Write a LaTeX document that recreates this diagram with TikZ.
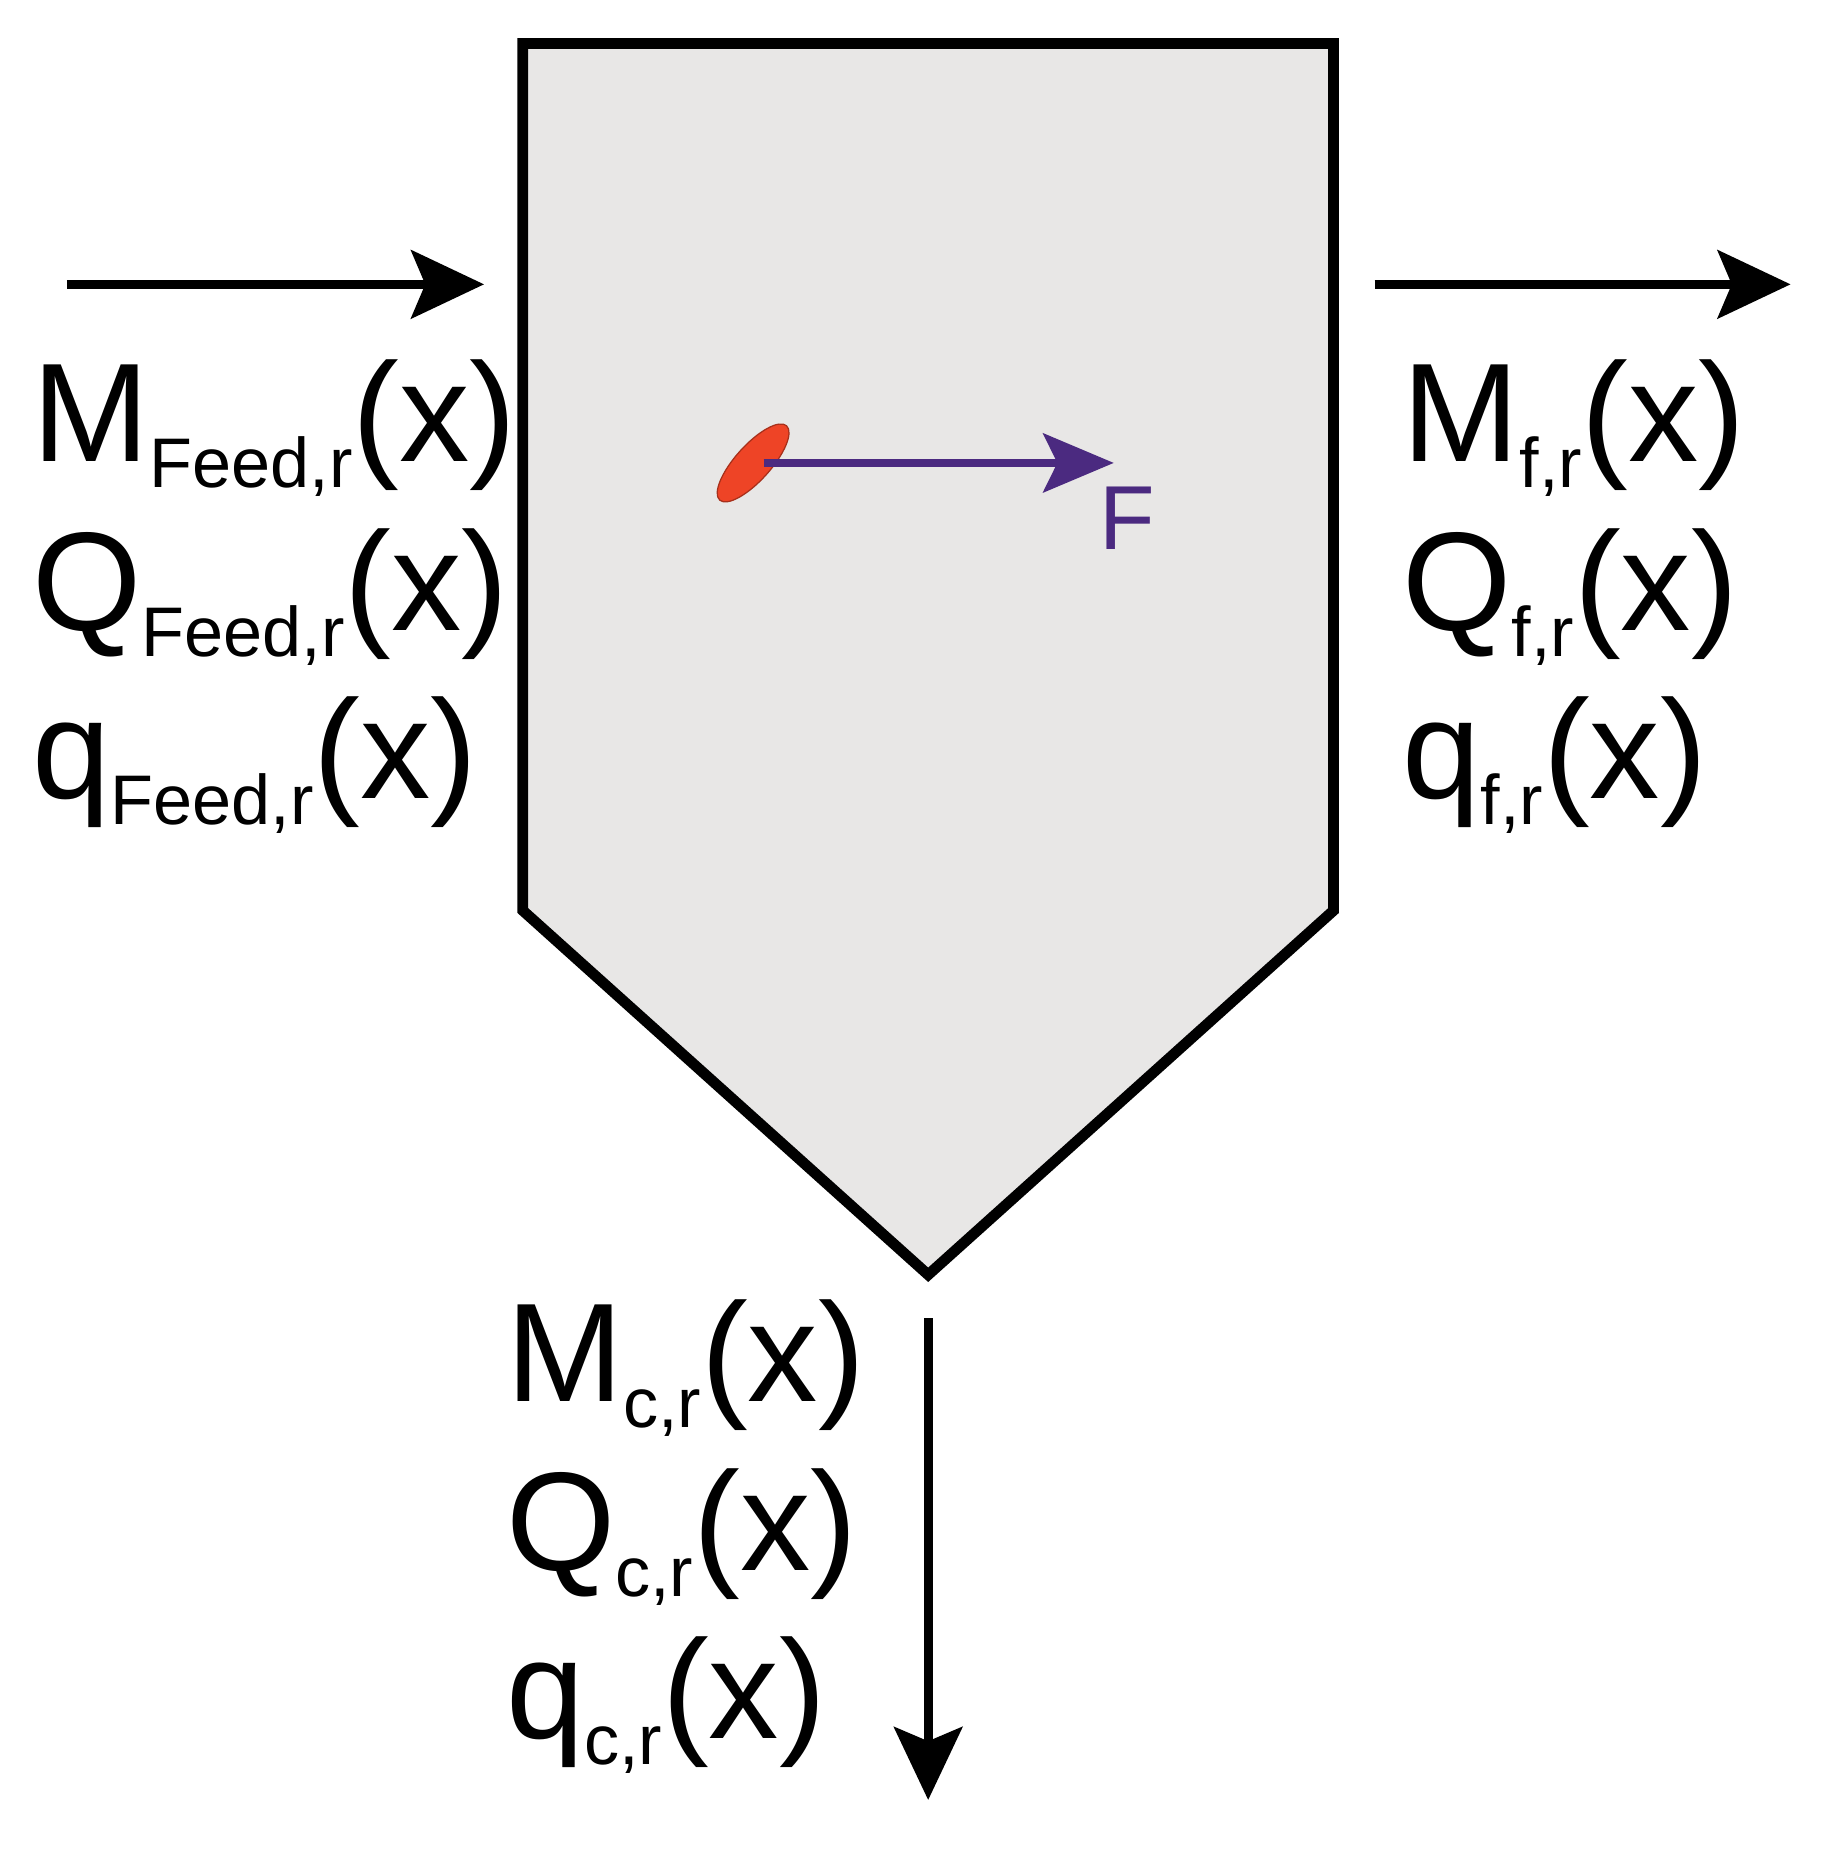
\documentclass[tikz,border=0pt]{standalone}
\usepackage{fontspec}
\setmainfont{Liberation Sans}
\usetikzlibrary{arrows.meta,shapes.geometric}
\definecolor{boxgray}{HTML}{E8E7E6}
\definecolor{redp}{HTML}{EE4426}
\definecolor{purp}{HTML}{4B2A80}
\newcommand{\sbx}[1]{{\fontsize{17}{17}\selectfont\raisebox{-0.22cm}{#1}}}
\tikzset{
  big/.style={font=\fontsize{34}{40}\selectfont, anchor=base west, inner sep=0pt},
  flow/.style={line width=2.1pt, -{Stealth[length=0.62cm,width=0.58cm,inset=0.12cm]}},
}
\begin{document}
\begin{tikzpicture}[x=0.01cm,y=-0.01cm]
\useasboundingbox (0,0) rectangle (1553,1578);
\draw[line width=2.6pt, fill=boxgray, line join=miter] (445,37) -- (1135,37) -- (1135,775) -- (790,1085) -- (445,775) -- cycle;
\coordinate (a1) at (57,242); \coordinate (a2) at (412,242);
\coordinate (b1) at (1170,242); \coordinate (b2) at (1524,242);
\coordinate (c1) at (790,1122); \coordinate (c2) at (790,1532);
\draw[flow] (a1) -- (a2);
\draw[flow] (b1) -- (b2);
\draw[flow] (c1) -- (c2);
\node[big] (m1) at (27,393) {M\sbx{Feed,r}(x)};
\node[big] (q1) at (27,537) {Q\sbx{Feed,r}(x)};
\node[big] (s1) at (27,680) {q\sbx{Feed,r}(x)};
\node[big] (m2) at (1193,393) {M\sbx{f,r}(x)};
\node[big] (q2) at (1193,537) {Q\sbx{f,r}(x)};
\node[big] (s2) at (1193,680) {q\sbx{f,r}(x)};
\node[big] (m3) at (430,1193) {M\sbx{c,r}(x)};
\node[big] (q3) at (430,1337) {Q\sbx{c,r}(x)};
\node[big] (s3) at (430,1480) {q\sbx{c,r}(x)};
\node[ellipse, fill=redp, draw=redp!70!black, line width=0.3pt, minimum width=0.85cm, minimum height=0.3cm, rotate=48, inner sep=0pt] (p) at (641,394) {};
\coordinate (f1) at (650,394); \coordinate (f2) at (948,394);
\draw[line width=2pt, purp, -{Stealth[length=0.6cm,width=0.5cm,inset=0.12cm]}] (f1) -- (f2);
\node[text=purp, font=\fontsize{22}{24}\selectfont, anchor=base west, inner sep=0pt] (F) at (935,468) {F};
\end{tikzpicture}
\end{document}
